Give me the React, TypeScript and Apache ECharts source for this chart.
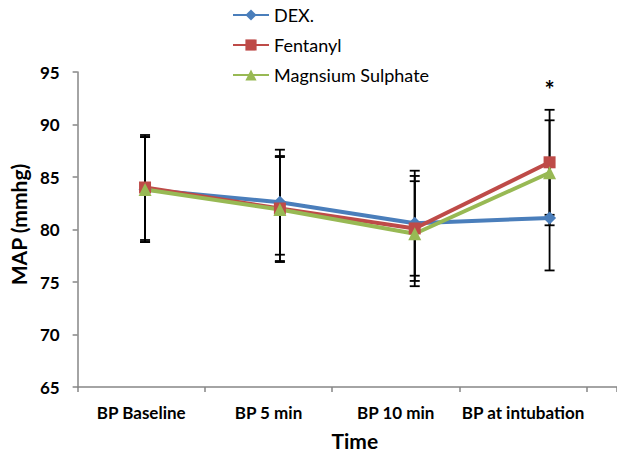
import React, { useEffect, useRef } from "react";
import * as echarts from "echarts";

const categories = ["BP Baseline", "BP 5 min", "BP 10 min", "BP at intubation"];
const seriesNames = ["DEX.", "Fentanyl", "Magnsium Sulphate"];
const dexMean = [83.8, 82.6, 80.6, 81.1];
const dexSD = [5.0, 5.0, 5.0, 5.0];
const fentMean = [84.0, 82.0, 80.1, 86.4];
const fentSD = [5.0, 5.0, 5.0, 5.0];
const magMean = [83.8, 81.9, 79.6, 85.4];
const magSD = [5.0, 5.0, 5.0, 5.0];
const significance = ["", "", "", "*"];
const yMin = 65;
const yMax = 95;
const yStep = 5;

const colors = ["#4A7EBB", "#BE4B48", "#98B954"];
const symbols = ["diamond", "rect", "triangle"];
const symbolSizes = [13, 12, 13];
const FONT = "Lato, 'Liberation Sans', sans-serif";

export default function App() {
  const ref = useRef<HTMLDivElement>(null);
  useEffect(() => {
    if (!ref.current) return;
    const chart = echarts.init(ref.current, null, { renderer: "svg" });
    const means = [dexMean, fentMean, magMean];
    const sds = [dexSD, fentSD, magSD];
    const labelAxisMax = 540 / 127.4;

    const lineSeries = means.map((m, k) => ({
      name: seriesNames[k],
      type: "line",
      xAxisIndex: 0,
      yAxisIndex: 0,
      data: m,
      symbol: symbols[k],
      symbolSize: symbolSizes[k],
      lineStyle: { color: colors[k], width: 4 },
      itemStyle: { color: colors[k] },
      z: 3,
    }));

    const errSeries = means.map((m, k) => ({
      name: seriesNames[k] + " err",
      type: "custom",
      xAxisIndex: 0,
      yAxisIndex: 0,
      z: 2,
      silent: true,
      data: m.map((v, i) => [i, v - sds[k][i], v + sds[k][i]]),
      renderItem: (params: any, api: any) => {
        const x = api.value(0);
        const lo = api.coord([x, api.value(1)]);
        const hi = api.coord([x, api.value(2)]);
        const hw = 5;
        const st = { stroke: "#000", lineWidth: 1.8 };
        return {
          type: "group",
          children: [
            { type: "line", shape: { x1: lo[0], y1: lo[1], x2: hi[0], y2: hi[1] }, style: st },
            { type: "line", shape: { x1: lo[0] - hw, y1: lo[1], x2: lo[0] + hw, y2: lo[1] }, style: st },
            { type: "line", shape: { x1: hi[0] - hw, y1: hi[1], x2: hi[0] + hw, y2: hi[1] }, style: st },
          ],
        };
      },
    }));

    const annotData = significance
      .map((s, i) => [i, Math.max(dexMean[i] + dexSD[i], fentMean[i] + fentSD[i], magMean[i] + magSD[i]) + 1.9, s])
      .filter((d) => d[2] !== "");

    const annotSeries = {
      name: "sig",
      type: "custom",
      xAxisIndex: 0,
      yAxisIndex: 0,
      z: 4,
      silent: true,
      data: annotData,
      renderItem: (params: any, api: any) => {
        const p = api.coord([api.value(0), api.value(1)]);
        return {
          type: "text",
          x: p[0],
          y: p[1],
          style: {
            text: String(annotData[params.dataIndex][2]),
            fill: "#000",
            font: `bold 24px ${FONT}`,
            align: "center",
            verticalAlign: "middle",
          },
        };
      },
    };

    chart.setOption({
      animation: false,
      backgroundColor: "#fff",
      grid: { left: 77, right: 0, top: 72, bottom: 65, containLabel: false },
      legend: {
        data: seriesNames,
        orient: "vertical",
        left: 232,
        top: 6,
        padding: 0,
        itemWidth: 36,
        itemHeight: 14,
        itemGap: 12,
        textStyle: { fontFamily: FONT, fontSize: 18, color: "#000" },
      },
      xAxis: [
        {
          type: "category",
          data: categories,
          position: "bottom",
          boundaryGap: true,
          axisLine: { onZero: false, lineStyle: { color: "#868686", width: 1.5 } },
          axisTick: { show: false },
          axisLabel: { show: false },
          splitLine: { show: false },
        },
        {
          type: "value",
          min: 0,
          max: labelAxisMax,
          interval: 1,
          position: "bottom",
          axisLine: { show: false, onZero: false },
          axisTick: { show: true, length: 5, lineStyle: { color: "#868686", width: 1.5 } },
          axisLabel: { show: false },
          splitLine: { show: false },
        },
        {
          type: "value",
          min: 0,
          max: labelAxisMax,
          interval: 0.5,
          position: "bottom",
          axisLine: { show: false, onZero: false },
          axisTick: { show: false },
          splitLine: { show: false },
          axisLabel: {
            show: true,
            showMaxLabel: false,
            showMinLabel: false,
            margin: 17,
            fontFamily: FONT,
            fontWeight: "bold",
            fontSize: 17,
            color: "#000",
            formatter: (v: number) => {
              const i = Math.floor(v);
              return Math.abs(v - i - 0.5) < 1e-6 && categories[i] ? categories[i] : "";
            },
          },
          name: "Time",
          nameLocation: "middle",
          nameGap: 43,
          nameTextStyle: {
            fontFamily: FONT,
            fontWeight: "bold",
            fontSize: 21,
            color: "#000",
            padding: [0, 0, 0, 15],
          },
        },
      ],
      yAxis: {
        type: "value",
        min: yMin,
        max: yMax,
        interval: yStep,
        axisLine: { show: true, lineStyle: { color: "#868686", width: 1.5 } },
        axisTick: { show: true, length: 5, lineStyle: { color: "#868686", width: 1.5 } },
        splitLine: { show: false },
        axisLabel: {
          margin: 18,
          fontFamily: FONT,
          fontWeight: "bold",
          fontSize: 17,
          color: "#000",
        },
        name: "MAP (mmhg)",
        nameLocation: "middle",
        nameRotate: 90,
        nameGap: 43,
        nameTextStyle: {
          fontFamily: FONT,
          fontWeight: "bold",
          fontSize: 21,
          color: "#000",
          padding: [0, 0, 0, 10],
        },
      },
      series: [...errSeries, ...lineSeries, annotSeries],
    });
    return () => chart.dispose();
  }, []);
  return (
    <div
      ref={ref}
      style={{ position: "fixed", left: 0, top: 0, width: 617, height: 456, background: "#fff" }}
    />
  );
}
